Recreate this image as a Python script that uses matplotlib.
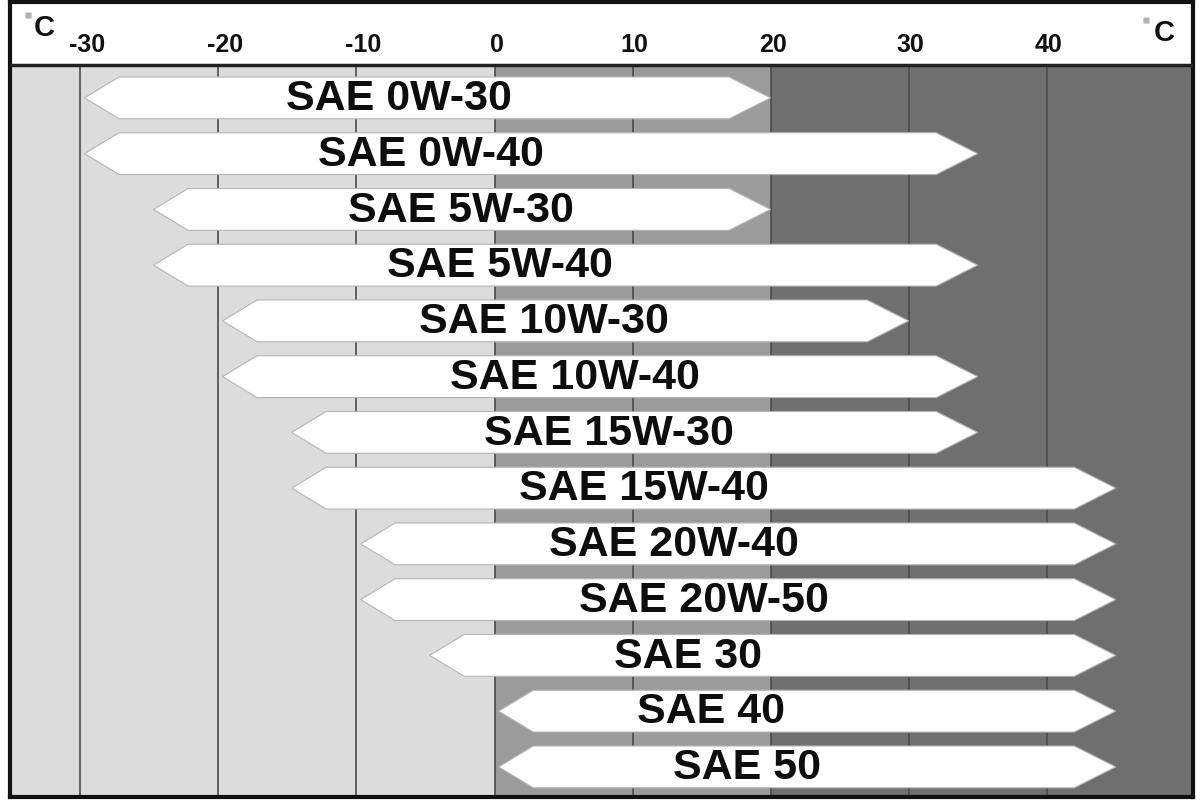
import matplotlib
matplotlib.use("Agg")
import matplotlib.pyplot as plt
from matplotlib.patches import Polygon, Rectangle

plt.rcParams['font.family'] = ['Liberation Sans', 'DejaVu Sans']

# oil grades and their usable temperature range (deg C)
grades = ["SAE 0W-30", "SAE 0W-40", "SAE 5W-30", "SAE 5W-40", "SAE 10W-30",
          "SAE 10W-40", "SAE 15W-30", "SAE 15W-40", "SAE 20W-40", "SAE 20W-50",
          "SAE 30", "SAE 40", "SAE 50"]
t_low = [-30, -30, -25, -25, -20, -20, -15, -15, -10, -10, -5, 0, 0]
t_high = [20, 35, 20, 35, 30, 35, 35, 45, 45, 45, 45, 45, 45]
# where the label text sits on each arrow (deg C)
label_x = [-6.9, -4.6, -2.4, 0.4, 3.6, 5.8, 8.3, 10.8, 13.0, 15.2, 14.0, 15.7, 18.3]
ticks = [-30, -20, -10, 0, 10, 20, 30, 40]

fig = plt.figure(figsize=(12, 8), dpi=100)
ax = fig.add_axes([10/1200, 3/800, 1183/1200, 795/800])

x_min, x_max = -35.1, 50.6
y_top, y_chart, y_bot = -1.72, -0.59, 12.54
ax.set_xlim(x_min, x_max)
ax.set_ylim(y_bot, y_top)

# background zones
zones = [(x_min, 0, '#dcdcdc'), (0, 20, '#9b9b9b'), (20, x_max, '#6f6f6f')]
for a, b, c in zones:
    ax.add_patch(Rectangle((a, y_chart), b - a, y_bot - y_chart, facecolor=c,
                           edgecolor='none', zorder=0))

for t in ticks:
    ax.plot([t, t], [y_chart, y_bot], color='#4a4a4a', lw=1.2, zorder=1)
    off = 0.5 if t < 0 else 0.15
    ax.text(t + off, -0.94, str(t), ha='center', va='center', fontsize=18,
            fontweight='bold', color='#111111')

ax.plot([x_min, x_max], [y_chart, y_chart], color='#222222', lw=2.5, zorder=3)

# degree labels: small grey dot + bold C
ax.plot([-33.8, 47.2], [-1.49, -1.40], 's', ms=5, color='#b0b0b0',
        markeredgecolor='none')
ax.text(-32.6, -1.25, "C", ha='center', va='center', fontsize=21,
        fontweight='bold', color='#111111')
ax.text(48.5, -1.17, "C", ha='center', va='center', fontsize=21,
        fontweight='bold', color='#111111')

# arrows
half = 0.375
head = 3.0
for i, (lo, hi, name, lx) in enumerate(zip(t_low, t_high, grades, label_x)):
    pts = [(lo + 0.3, i), (lo + 2.8, i - half), (hi - head, i - half), (hi, i),
           (hi - head, i + half), (lo + 2.8, i + half)]
    ax.add_patch(Polygon(pts, closed=True, facecolor='white', edgecolor='#b5b5b5',
                         lw=0.8, zorder=2))
    ax.text(lx, i + 0.02, name, ha='center', va='center', fontsize=31,
            fontweight='bold', color='#0d0d0d', zorder=4)

ax.set_xticks([])
ax.set_yticks([])
for s in ax.spines.values():
    s.set_linewidth(3)
    s.set_color('#111111')

fig.savefig("out.png", dpi=100)
